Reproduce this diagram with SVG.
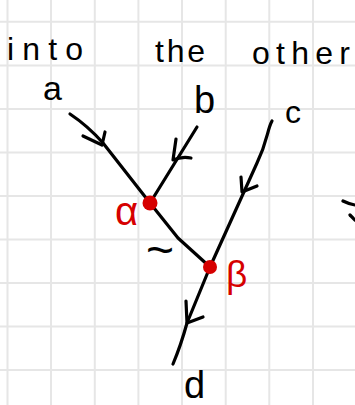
<svg xmlns="http://www.w3.org/2000/svg" width="355" height="405" viewBox="0 0 355 405">
<style>
.grid line{stroke:#e6e6e6;stroke-width:2}
.ink{fill:none;stroke:#000;stroke-width:3.2;stroke-linecap:round;stroke-linejoin:round}
.hw{font-family:"Liberation Sans",Arial,sans-serif;fill:#000}
.red{font-family:"Liberation Sans",Arial,sans-serif;fill:#d60000}
.dot{fill:#d60000}
</style>
<rect width="355" height="405" fill="#fff"/>
<g class="grid">
<line x1="7.5" y1="0" x2="7.5" y2="405"/>
<line x1="51" y1="0" x2="51" y2="405"/>
<line x1="94.8" y1="0" x2="94.8" y2="405"/>
<line x1="138.4" y1="0" x2="138.4" y2="405"/>
<line x1="182" y1="0" x2="182" y2="405"/>
<line x1="225.7" y1="0" x2="225.7" y2="405"/>
<line x1="269.3" y1="0" x2="269.3" y2="405"/>
<line x1="313" y1="0" x2="313" y2="405"/>
<line x1="0" y1="21.7" x2="355" y2="21.7"/>
<line x1="0" y1="65.5" x2="355" y2="65.5"/>
<line x1="0" y1="109" x2="355" y2="109"/>
<line x1="0" y1="152.5" x2="355" y2="152.5"/>
<line x1="0" y1="196" x2="355" y2="196"/>
<line x1="0" y1="239.5" x2="355" y2="239.5"/>
<line x1="0" y1="283" x2="355" y2="283"/>
<line x1="0" y1="326.5" x2="355" y2="326.5"/>
<line x1="0" y1="370" x2="355" y2="370"/>
</g>
<g id="title">
<text class="hw" x="7" y="60" font-size="32" textLength="76" lengthAdjust="spacing">into</text>
<text class="hw" x="155" y="62" font-size="32" textLength="50" lengthAdjust="spacing">the</text>
<text class="hw" x="252" y="64" font-size="32" textLength="98" lengthAdjust="spacing">other</text>
</g>
<g id="connectors">
<path class="ink" d="M70,114 Q88,126 103,143 L150,203"/>
<path class="ink" d="M83,136 L102,145 L105,132"/>
<path class="ink" d="M197,127 L150,203"/>
<path class="ink" d="M176,139 L173,160 Q182,156 191,158"/>
<path class="ink" d="M272,121 C267,130 268,140 257,163 L210,267"/>
<path class="ink" d="M241,177 L242,192 L257,186"/>
<path class="ink" d="M150,203 L178,238 L210,267"/>
<path class="ink" d="M210,267 L187,323 Q181,345 173,364"/>
<path class="ink" d="M186,301 L187,323 L203,317"/>
</g>
<g id="node-a"><text class="hw" x="43" y="100" font-size="34">a</text></g>
<g id="node-b"><text class="hw" x="194" y="113" font-size="38">b</text></g>
<g id="node-c"><text class="hw" x="285" y="123" font-size="32">c</text></g>
<g id="node-d"><text class="hw" x="184" y="398" font-size="38">d</text></g>
<g id="node-alpha">
<circle class="dot" cx="150" cy="203" r="7.5"/>
<text class="red" x="115" y="225" font-size="40">α</text>
</g>
<g id="node-beta">
<circle class="dot" cx="210" cy="267" r="7"/>
<text class="red" x="226" y="287" font-size="37">β</text>
</g>
<g id="label-tilde"><text class="hw" x="146" y="266" font-size="48">~</text></g>
<g id="edge-mark">
<path class="ink" stroke-width="2" d="M343,201 Q349,204 355,205"/>
<path class="ink" stroke-width="2" d="M350,215 L355,220"/>
</g>
</svg>
